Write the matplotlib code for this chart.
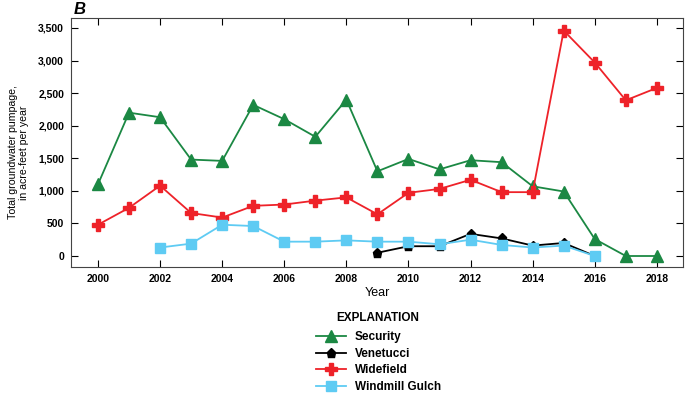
import matplotlib
matplotlib.use("Agg")
import matplotlib.pyplot as plt
from matplotlib.ticker import FuncFormatter
from matplotlib.lines import Line2D

plt.rcParams['font.family'] = ['Liberation Sans Narrow', 'DejaVu Sans Condensed',
                               'Liberation Sans', 'DejaVu Sans']

# ----- Data -----
years = list(range(2000, 2019))

security = [1100, 2200, 2130, 1480, 1460, 2320, 2100, 1830, 2400, 1300,
            1490, 1330, 1470, 1440, 1070, 990, 260, 0, 0]

venetucci_years = list(range(2009, 2017))
venetucci = [50, 150, 150, 340, 270, 160, 200, 0]

widefield = [480, 740, 1080, 660, 590, 770, 790, 850, 900, 640,
             970, 1030, 1170, 980, 980, 3460, 2970, 2390, 2580]

windmill_years = list(range(2002, 2017))
windmill = [130, 190, 480, 460, 220, 220, 240, 220, 220, 180,
            250, 170, 130, 160, 0]

x_ticks = list(range(2000, 2019, 2))
y_ticks = list(range(0, 3501, 500))

# ----- Colors -----
green = '#1b8843'
red = '#ee2229'
cyan = '#5ecbf3'

fig = plt.figure(figsize=(6.85, 3.94), dpi=100)
ax = fig.add_axes([0.1036, 0.3223, 0.8934, 0.632])

ax.plot(years, security, color=green, lw=1.3, marker='^', ms=9, zorder=3)
ax.plot(years, widefield, color=red, lw=1.3, marker='P', ms=8.5, zorder=4)
ax.plot(venetucci_years, venetucci, color='black', lw=1.3, marker='p', ms=6.5, zorder=5)
ax.plot(windmill_years, windmill, color=cyan, lw=1.3, marker='s', ms=7.5, zorder=6)

ax.set_xlim(1999.13, 2018.84)
ax.set_ylim(-169, 3653)
ax.set_xticks(x_ticks)
ax.set_yticks(y_ticks)
ax.yaxis.set_major_formatter(FuncFormatter(lambda v, p: f'{int(v):,}'))
ax.tick_params(direction='in', length=5, width=0.8, top=True, right=True,
               labelsize=7.5, pad=5)
for lab in ax.get_xticklabels() + ax.get_yticklabels():
    lab.set_fontweight('bold')
for s in ax.spines.values():
    s.set_linewidth(0.8)
    s.set_color('#444444')

ax.set_xlabel('Year', fontsize=9, labelpad=2)
ax.set_ylabel('Total groundwater pumpage,\nin acre-feet per year', fontsize=7.6,
              linespacing=1.15)
ax.yaxis.set_label_coords(-0.068, 0.46)
fig.text(0.107, 0.975, 'B', fontsize=12, fontweight='bold', fontstyle='italic',
         va='center', ha='left')

# ----- Legend -----
handles = [
    Line2D([], [], color=green, lw=1.3, marker='^', ms=8),
    Line2D([], [], color='black', lw=1.3, marker='p', ms=6.5),
    Line2D([], [], color=red, lw=1.3, marker='P', ms=8),
    Line2D([], [], color=cyan, lw=1.3, marker='s', ms=7),
]
labels = ['Security', 'Venetucci', 'Widefield', 'Windmill Gulch']
leg = fig.legend(handles, labels, loc='upper left', bbox_to_anchor=(0.461, 0.160),
                 frameon=False, fontsize=8.5, handlelength=2.6, handletextpad=0.7,
                 labelspacing=0.4, borderpad=0, borderaxespad=0)
for t in leg.get_texts():
    t.set_fontweight('bold')
fig.text(0.552, 0.193, 'EXPLANATION', fontsize=8.5, fontweight='bold',
         ha='center', va='center')

fig.savefig('out.png', dpi=100)
